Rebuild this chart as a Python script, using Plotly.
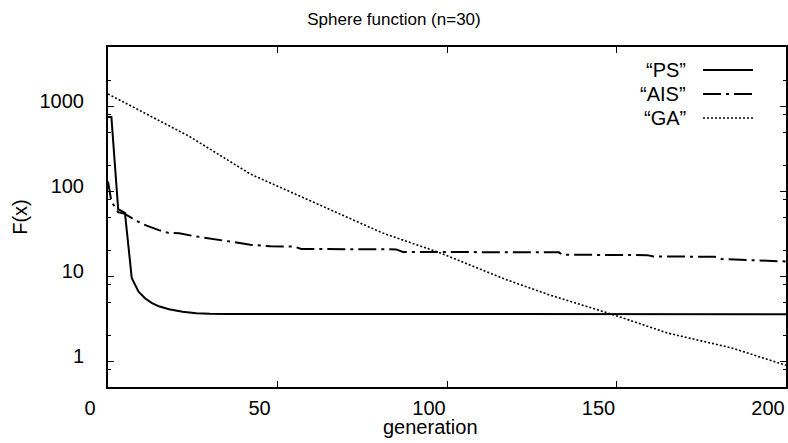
import plotly.graph_objects as go

# ---- data ----
ps_gen = [0, 1, 3, 5, 7, 9, 11, 13, 15, 18, 22, 26, 30, 35, 200]
ps_val = [750, 750, 62, 56, 9.6, 6.6, 5.5, 4.85, 4.45, 4.1, 3.85, 3.68, 3.63, 3.61, 3.6]

ais_gen = [0, 1, 3, 5, 8, 10, 12, 15, 18, 21, 25, 30, 36, 42, 48, 55, 57, 85, 87, 133, 134, 159, 161, 179, 181, 194, 200]
ais_val = [131, 76, 57, 54.5, 46, 41.7, 38.8, 35, 32.4, 32.2, 30, 28, 25.8, 23.6, 22.6, 22.4, 21.0, 20.8, 19.4, 19.2, 18.0, 17.8, 17.2, 17.0, 16.0, 15.2, 15.0]

ga_gen = [0, 10, 24, 42, 61, 81, 98, 117, 130, 149, 165, 184, 200]
ga_val = [1400, 870, 444, 160, 73, 32.4, 18.9, 9.3, 6.1, 3.55, 2.16, 1.44, 0.9]

x_ticks = [0, 50, 100, 150, 200]
y_ticks = [1, 10, 100, 1000]
y_tick_text = ["1", "10", "100", "1000"]
y_minor = [0.8, 2, 5, 8, 20, 50, 80, 200, 500, 800, 2000]

legend_names = ["\u201cPS\u201d", "\u201cAIS\u201d", "\u201cGA\u201d"]

FONT = "Liberation Sans, Arial, sans-serif"

styles = [
    dict(color="black", width=2, dash="solid"),
    dict(color="black", width=2, dash="18px,5px,3px,5px"),
    dict(color="black", width=1.6, dash="2px,2px"),
]

fig = go.Figure()
for (g, v, name), st in zip([(ps_gen, ps_val, legend_names[0]),
                             (ais_gen, ais_val, legend_names[1]),
                             (ga_gen, ga_val, legend_names[2])], styles):
    fig.add_trace(go.Scatter(x=g, y=v, mode="lines", name=name, line=st, showlegend=False))

# legend drawn as text + line samples (text on the left, sample on the right)
shapes = []
annotations = []
leg_y = [0.932, 0.862, 0.791]
for name, st, yy in zip(legend_names, styles, leg_y):
    annotations.append(dict(x=0.8555, y=yy, xref="paper", yref="paper", text=name,
                            showarrow=False, xanchor="right", yanchor="middle",
                            font=dict(family=FONT, size=20, color="black")))
    shapes.append(dict(type="line", xref="paper", yref="paper", x0=0.8776, x1=0.9513,
                       y0=yy, y1=yy, line=st))

annotations.append(dict(x=0.475, y=-0.118, xref="paper", yref="paper", text="generation",
                        showarrow=False, xanchor="center", yanchor="middle",
                        font=dict(family=FONT, size=20, color="black")))

fig.update_layout(
    width=788, height=443,
    margin=dict(l=108, r=2, t=47, b=56, autoexpand=False),
    paper_bgcolor="white", plot_bgcolor="white",
    font=dict(family=FONT, size=20, color="black"),
    title=dict(text="Sphere function (n=30)", x=0.5, xref="container", xanchor="center",
               y=1 - 19 / 443, yref="container", yanchor="middle",
               font=dict(family=FONT, size=17, color="black")),
    shapes=shapes,
    annotations=annotations,
    showlegend=False,
)
fig.update_xaxes(
    range=[0, 200], tickmode="array", tickvals=x_ticks, automargin=False,
    ticks="inside", ticklen=6, tickwidth=1, tickcolor="black",
    showline=True, linewidth=2, linecolor="black", mirror="ticks",
    showgrid=False, zeroline=False, ticklabelshift=-18, ticklabelstandoff=2,
    tickfont=dict(family=FONT, size=20, color="black"),
)
fig.update_yaxes(
    type="log", range=[-0.30103, 3.69897], tickmode="array", tickvals=y_ticks, ticktext=y_tick_text,
    automargin=False,
    ticks="inside", ticklen=6, tickwidth=1, tickcolor="black",
    minor=dict(tickmode="array", tickvals=y_minor, ticks="inside", ticklen=3, tickcolor="black", showgrid=False),
    showline=True, linewidth=2, linecolor="black", mirror="ticks",
    showgrid=False, zeroline=False, ticklabelshift=-5, ticklabelstandoff=18,
    tickfont=dict(family=FONT, size=20, color="black"),
    title=dict(text="F(x)", standoff=7, font=dict(family=FONT, size=20, color="black")),
)

fig.write_html("out.html", config={"displayModeBar": False},
               post_script="document.body.style.margin='0';")
